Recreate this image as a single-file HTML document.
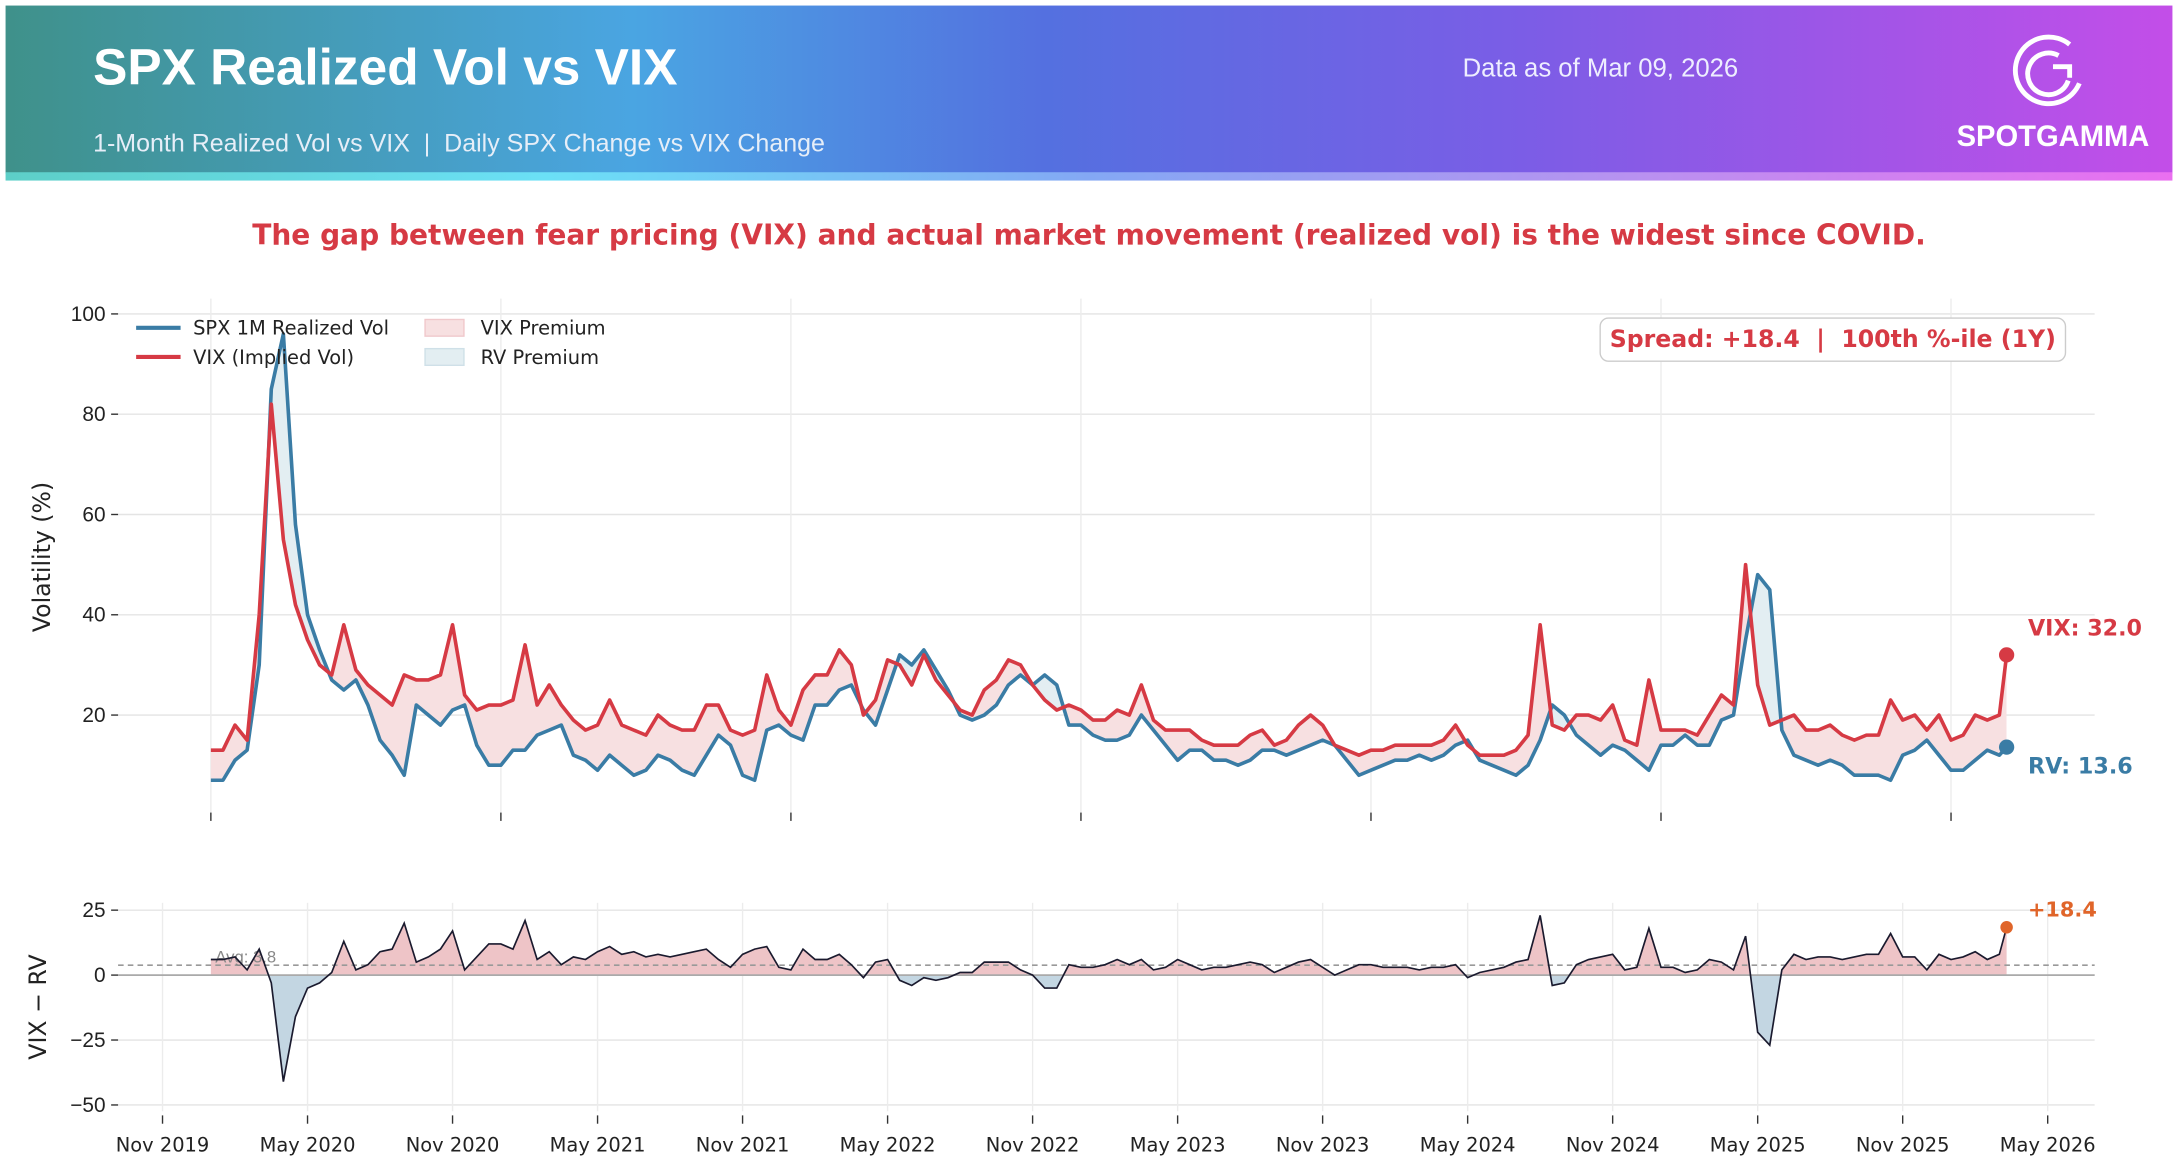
<!DOCTYPE html>
<html><head><meta charset="utf-8"><style>
html,body{margin:0;padding:0;background:#fff;}
svg{display:block;font-family:"Liberation Sans","DejaVu Sans",sans-serif;white-space:pre;}
.dv{font-family:"DejaVu Sans","Liberation Sans",sans-serif;}
</style></head><body>
<svg id="c" width="2178" height="1174" viewBox="0 0 1568 845.2" xmlns="http://www.w3.org/2000/svg">
<defs>
<linearGradient id="hg" x1="0" x2="1" y1="0" y2="0">
<stop offset="0" stop-color="#3f918a"/><stop offset="0.29" stop-color="#4aa5e2"/><stop offset="0.48" stop-color="#5470e0"/><stop offset="0.7" stop-color="#7b5de6"/><stop offset="1" stop-color="#c34ee8"/>
</linearGradient>
<linearGradient id="sg" x1="0" x2="1" y1="0" y2="0">
<stop offset="0" stop-color="#5dcfc8"/><stop offset="0.25" stop-color="#6be0f6"/><stop offset="0.5" stop-color="#84a8f4"/><stop offset="0.75" stop-color="#b892f0"/><stop offset="1" stop-color="#ea6ff0"/>
</linearGradient>
</defs>
<g>
<rect x="4" y="4" width="1560" height="121" fill="url(#hg)"/>
<rect x="4" y="124" width="1560" height="6" fill="url(#sg)"/>
<text x="67" y="61" font-size="37" font-weight="bold" fill="#fff">SPX Realized Vol vs VIX</text>
<text x="67" y="109" font-size="18" fill="#e6eef8" xml:space="preserve">1-Month Realized Vol vs VIX  |  Daily SPX Change vs VIX Change</text>
<text x="1053" y="55" font-size="18.5" fill="#eef">Data as of Mar 09, 2026</text>
<g fill="none" stroke="#fff" stroke-width="3.5">
<path d="M1490 32 A24 24 0 1 0 1497 60"/><path d="M1482 40 A15 15 0 1 0 1489 58"/><path d="M1478 48 h12 v8"/>
</g>
<text x="1478" y="105" font-size="21" font-weight="bold" fill="#fff" text-anchor="middle">SPOTGAMMA</text>
</g>
<text x="784" y="176" font-size="20.2" font-weight="bold" fill="#d63a44" text-anchor="middle" class="dv">The gap between fear pricing (VIX) and actual market movement (realized vol) is the widest since COVID.</text>
<g id="topg"></g>
<g id="botg"></g>
</svg>
<script>
const vix=[13,13,18,15,40,82,55,42,35,30,28,38,29,26,24,22,28,27,27,28,38,24,21,22,22,23,34,22,26,22,19,17,18,23,18,17,16,20,18,17,17,22,22,17,16,17,28,21,18,25,28,28,33,30,20,23,31,30,26,32,27,24,21,20,25,27,31,30,26,23,21,22,21,19,19,21,20,26,19,17,17,17,15,14,14,14,16,17,14,15,18,20,18,14,13,12,13,13,14,14,14,14,15,18,14,12,12,12,13,16,38,18,17,20,20,19,22,15,14,27,17,17,17,16,20,24,22,50,26,18,19,20,17,17,18,16,15,16,16,23,19,20,17,20,15,16,20,19,20,32];
const rv=[7,7,11,13,30,85,96,58,40,33,27,25,27,22,15,12,8,22,20,18,21,22,14,10,10,13,13,16,17,18,12,11,9,12,10,8,9,12,11,9,8,12,16,14,8,7,17,18,16,15,22,22,25,26,21,18,25,32,30,33,29,25,20,19,20,22,26,28,26,28,26,18,18,16,15,15,16,20,17,14,11,13,13,11,11,10,11,13,13,12,13,14,15,14,11,8,9,10,11,11,12,11,12,14,15,11,10,9,8,10,15,22,20,16,14,12,14,13,11,9,14,14,16,14,14,19,20,35,48,45,17,12,11,10,11,10,8,8,8,7,12,13,15,12,9,9,11,13,12,13.6];
const monthIdx=[]; for(let i=0;i<vix.length;i++){monthIdx.push(i===vix.length-1?76.3:2+i/2);}
const topTicks=[20,40,60,80,100];
const botTicks=[25,0,-25,-50];
const xLabels=["Nov 2019","May 2020","Nov 2020","May 2021","Nov 2021","May 2022","Nov 2022","May 2023","Nov 2023","May 2024","Nov 2024","May 2025","Nov 2025","May 2026"];
const yearTicks=[2,14,26,38,50,62,74];
const avgSpread=[3.8];
const NS="http://www.w3.org/2000/svg";
const X=m=>117+m*17.4;
const YT=v=>587-v*3.61;
const YB=v=>702-v*1.87;
function el(t,a,p){const e=document.createElementNS(NS,t);for(const k in a)e.setAttribute(k,a[k]);p.appendChild(e);return e;}
const topG=document.getElementById('topg'),botG=document.getElementById('botg'),svgEl=document.getElementById('c');
const defs=svgEl.querySelector('defs');
topTicks.forEach(v=>{
 const g=el('line',{x1:85,x2:1508,y1:YT(v),y2:YT(v),stroke:'#e4e4e4','stroke-width':1},topG);
 
 
 const tk=el('line',{x1:80,x2:85,y1:YT(v),y2:YT(v),stroke:'#333'},topG);
 
 
 const t=el('text',{x:76,y:YT(v)+5,'font-size':15,'text-anchor':'end',fill:'#222'},topG);t.textContent=v;
 
 
});
yearTicks.forEach(m=>{
 const g=el('line',{x1:X(m),x2:X(m),y1:215,y2:587,stroke:'#ececec'},topG);
 
 
 const tk=el('line',{x1:X(m),x2:X(m),y1:585,y2:591,stroke:'#333'},topG);
 
 
});
const yl=el('text',{x:0,y:0,'font-size':17,'text-anchor':'middle',fill:'#222',transform:'translate(36,401) rotate(-90)',class:'dv'},topG);yl.textContent='Volatility (%)';


const ptsV=vix.map((v,i)=>X(monthIdx[i])+','+YT(v)).join(' ');
const ptsR=rv.map((v,i)=>X(monthIdx[i])+','+YT(v)).join(' ');
const x0=X(monthIdx[0]),x1=X(monthIdx[monthIdx.length-1]);
el('path',{d:'M'+x0+',600 L'+ptsV+' L'+x1+',600Z'},el('clipPath',{id:'cBV'},defs));
el('path',{d:'M'+x0+',200 L'+ptsV+' L'+x1+',200Z'},el('clipPath',{id:'cAV'},defs));
const pf=el('path',{d:'M'+x0+',200 L'+ptsR+' L'+x1+',200Z',fill:'#f7e0e1','clip-path':'url(#cBV)'},topG);


const bf=el('path',{d:'M'+x0+',600 L'+ptsR+' L'+x1+',600Z',fill:'#e3eef2','clip-path':'url(#cAV)'},topG);


const lr=el('polyline',{points:ptsR,fill:'none',stroke:'#3a7ca5','stroke-width':2.6,'stroke-linejoin':'round'},topG);


const lv=el('polyline',{points:ptsV,fill:'none',stroke:'#d63a44','stroke-width':2.6,'stroke-linejoin':'round'},topG);


const n=vix.length-1;
const dv=el('circle',{cx:x1,cy:YT(vix[n]),r:5.5,fill:'#d63a44'},topG);


const dr=el('circle',{cx:x1,cy:YT(rv[n]),r:5.5,fill:'#3a7ca5'},topG);


const tv=el('text',{x:1460,y:YT(vix[n])-14,'font-size':16,'font-weight':'bold',fill:'#d63a44',class:'dv'},topG);tv.textContent='VIX: '+vix[n].toFixed(1);


const tr=el('text',{x:1460,y:YT(rv[n])+19,'font-size':16,'font-weight':'bold',fill:'#3a7ca5',class:'dv'},topG);tr.textContent='RV: '+rv[n].toFixed(1);


const lg=el('g',{},topG);


[['SPX 1M Realized Vol','#3a7ca5',236],['VIX (Implied Vol)','#d63a44',257]].forEach(a=>{
 const l=el('line',{x1:98,x2:130,y1:a[2],y2:a[2],stroke:a[1],'stroke-width':3},lg);
 
 
 const t=el('text',{x:139,y:a[2]+5,'font-size':14,fill:'#222',class:'dv'},lg);t.textContent=a[0];
 
 
});
[['VIX Premium','#f7e0e1','#f0c8cb',236],['RV Premium','#e3eef2','#cfe0e8',257]].forEach(a=>{
 const r=el('rect',{x:306,y:a[3]-6,width:28,height:12,fill:a[1],stroke:a[2]},lg);
 
 
 const t=el('text',{x:346,y:a[3]+5,'font-size':14,fill:'#222',class:'dv'},lg);t.textContent=a[0];
 
 
});
const sb=el('rect',{x:1152,y:229,width:335,height:31,rx:6,fill:'#fff',stroke:'#ccc'},topG);


const st=el('text',{x:1319.5,y:250,'font-size':17,'font-weight':'bold',fill:'#d63a44','text-anchor':'middle',class:'dv'},topG);
st.textContent='Spread: +'+(vix[n]-rv[n]).toFixed(1)+'\u00a0\u00a0|\u00a0\u00a0100th %-ile (1Y)';


botTicks.forEach(v=>{
 const g=el('line',{x1:85,x2:1508,y1:YB(v),y2:YB(v),stroke:'#e4e4e4'},botG);
 
 
 const tk=el('line',{x1:80,x2:85,y1:YB(v),y2:YB(v),stroke:'#333'},botG);
 
 
 const t=el('text',{x:76,y:YB(v)+5,'font-size':15,'text-anchor':'end',fill:'#222'},botG);t.textContent=v===-25?'−25':v===-50?'−50':v;
 
 
});
xLabels.forEach((s,i)=>{
 const m=i*6;
 const g=el('line',{x1:X(m),x2:X(m),y1:650,y2:800,stroke:'#ececec'},botG);
 
 
 const tk=el('line',{x1:X(m),x2:X(m),y1:803,y2:809,stroke:'#333'},botG);
 
 
 const t=el('text',{x:X(m),y:829,'font-size':14,'text-anchor':'middle',fill:'#222',class:'dv'},botG);t.textContent=s;
 
 
});
const yl2=el('text',{x:0,y:0,'font-size':17,'text-anchor':'middle',fill:'#222',transform:'translate(33,725) rotate(-90)',class:'dv'},botG);yl2.textContent='VIX − RV';


const diff=vix.map((v,i)=>v-rv[i]);
const ptsD=diff.map((d,i)=>X(monthIdx[i])+','+YB(d)).join(' ');
const area='M'+x0+','+YB(0)+' L'+ptsD+' L'+x1+','+YB(0)+'Z';
el('rect',{x:0,y:600,width:1568,height:YB(0)-600},el('clipPath',{id:'cPos'},defs));
el('rect',{x:0,y:YB(0),width:1568,height:200},el('clipPath',{id:'cNeg'},defs));
const fp=el('path',{d:area,fill:'#eec4c7','clip-path':'url(#cPos)'},botG);


const fn=el('path',{d:area,fill:'#c3d6e2','clip-path':'url(#cNeg)'},botG);


const z=el('line',{x1:85,x2:1508,y1:YB(0),y2:YB(0),stroke:'#aaa','stroke-width':1.3},botG);


const av=el('line',{x1:85,x2:1508,y1:YB(avgSpread[0]),y2:YB(avgSpread[0]),stroke:'#999','stroke-width':1.2,'stroke-dasharray':'4,3'},botG);


const at=el('text',{x:155,y:YB(avgSpread[0])-2,'font-size':12,fill:'#888'},botG);at.textContent='Avg: '+avgSpread[0].toFixed(1);


const ld=el('polyline',{points:ptsD,fill:'none',stroke:'#1a1a2e','stroke-width':1.2},botG);


const dd=el('circle',{cx:x1,cy:YB(diff[n]),r:4.5,fill:'#e0652a'},botG);


const td=el('text',{x:1460,y:660,'font-size':15,'font-weight':'bold',fill:'#e0652a',class:'dv'},botG);td.textContent='+'+diff[n].toFixed(1);


</script>
</body></html>
